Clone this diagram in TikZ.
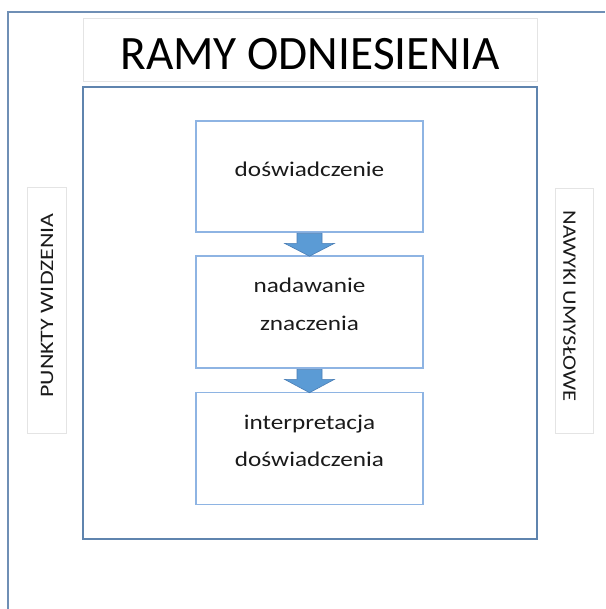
\documentclass[tikz,border=0pt]{standalone}
\usepackage{fontspec}
\setmainfont{Carlito}
\usetikzlibrary{calc}
\definecolor{framecol}{HTML}{6F8FB5}
\definecolor{maincol}{HTML}{5F84AE}
\definecolor{boxcol}{HTML}{8EB4E3}
\definecolor{greycol}{HTML}{E4E4E4}
\definecolor{arrowfill}{HTML}{5B9BD5}
\definecolor{arrowedge}{HTML}{4A7EB5}
\definecolor{txt}{HTML}{1A1A1A}
\newcommand{\wide}[2]{\scalebox{#1}[1]{#2}}
\begin{document}
\begin{tikzpicture}[x=1pt,y=-1pt,
  framebox/.style={draw=framecol, line width=1.6pt},
  mainbox/.style={draw=maincol, line width=1.8pt, minimum width=454pt, minimum height=452pt, inner sep=0pt},
  titlebox/.style={draw=greycol, line width=0.8pt, minimum width=454pt, minimum height=63pt, inner sep=0pt},
  titletext/.style={anchor=base, inner sep=0pt, font=\fontsize{48}{56}\selectfont, text=black},
  stepbox/.style={draw=boxcol, line width=1.6pt, minimum width=227pt, minimum height=112pt, inner sep=0pt},
  steptext/.style={anchor=base, inner sep=0pt, font=\fontsize{21}{26}\selectfont, text=txt},
  sidebox/.style={draw=greycol, line width=0.8pt, minimum width=39pt, minimum height=246pt, inner sep=0pt},
  sidetext/.style={inner sep=0pt, font=\fontsize{19}{24}\selectfont, text=txt},
  downarrow/.style={fill=arrowfill, draw=arrowedge, line width=0.6pt, line join=miter}]
\useasboundingbox (0,0) rectangle (605,609);
\coordinate (fbl) at (8,609);
\coordinate (ftl) at (8,12);
\coordinate (ftr) at (605,12);
\draw[framebox] (fbl) -- (ftl) -- (ftr);
% title
\node[titlebox] (title) at (310,49.5) {};
\node[titletext] (titlet) at ($(title.north)+(0,52)$) {\wide{0.985}{RAMY ODNIESIENIA}};
% main frame
\node[mainbox] (main) at (310,313) {};
% steps
\node[stepbox, minimum height=111pt] (b1) at (309.5,176.5) {};
\node[stepbox] (b2) at (309.5,312) {};
\node[stepbox] (b3) at (309.5,448.5) {};
\node[steptext] (b1t) at ($(b1.north)+(0,56.3)$) {\wide{1.2}{doświadczenie}};
\node[steptext] (b2t1) at ($(b2.north)+(0,37.3)$) {\wide{1.2}{nadawanie}};
\node[steptext] (b2t2) at ($(b2.north)+(0,75)$) {\wide{1.2}{znaczenia}};
\node[steptext] (b3t1) at ($(b3.north)+(0,37.5)$) {\wide{1.2}{interpretacja}};
\node[steptext] (b3t2) at ($(b3.north)+(0,74.5)$) {\wide{1.2}{doświadczenia}};
% side boxes
\node[sidebox] (left) at (46.5,310) {};
\node[sidebox, minimum width=38pt, minimum height=245pt] (right) at (574,310.5) {};
\node[sidetext] (leftt) at ($(left.center)+(0.5,-4.5)$) {\rotatebox{90}{\wide{1.26}{PUNKTY WIDZENIA}}};
\node[sidetext] (rightt) at ($(right.center)+(-4.5,-4.5)$) {\rotatebox{-90}{\wide{1.19}{NAWYKI UMYSŁOWE}}};
% arrows
\foreach \a/\b in {b1/b2, b2/b3}{
  \draw[downarrow] ($(\a.south)+(-12.5,0.5)$) -- ($(\a.south)+(12.5,0.5)$) -- ($(\a.south)+(12.5,10.5)$) -- ($(\a.south)+(25,10.5)$) -- ($(\b.north)+(0,1)$) -- ($(\a.south)+(-25,10.5)$) -- ($(\a.south)+(-12.5,10.5)$) -- cycle;
}
\end{tikzpicture}
\end{document}
